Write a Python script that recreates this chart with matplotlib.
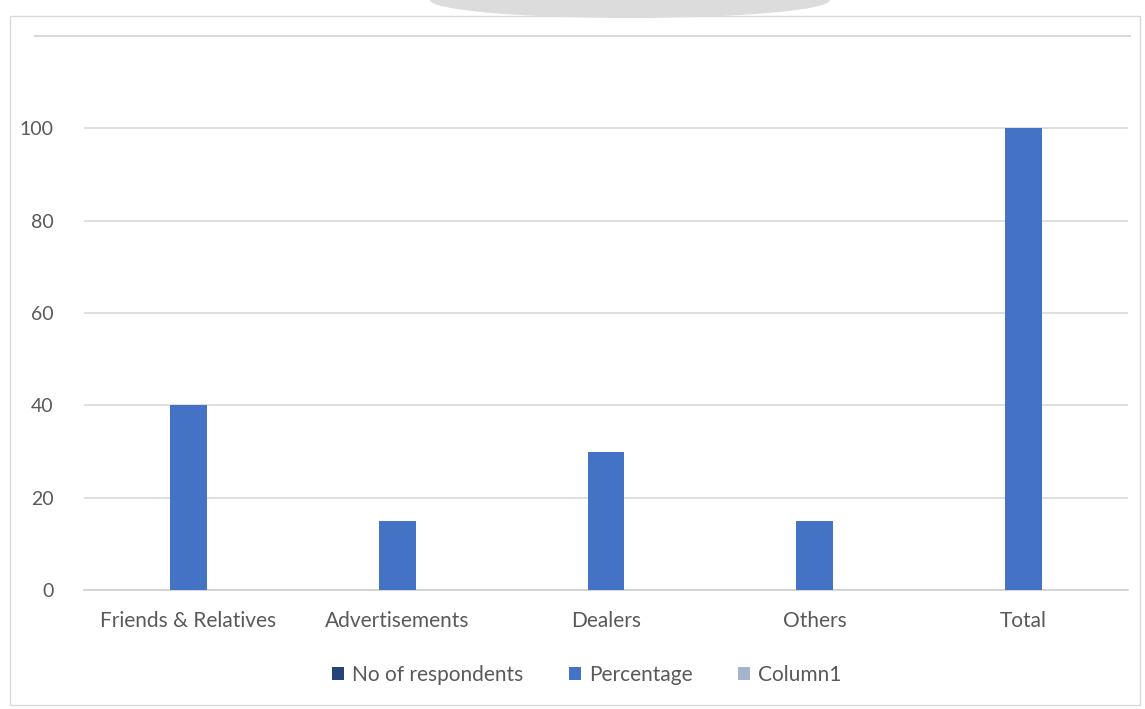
import matplotlib.pyplot as plt
from matplotlib.patches import Rectangle, Ellipse
from matplotlib.lines import Line2D
import numpy as np

categories = ["Friends & Relatives", "Advertisements", "Dealers", "Others", "Total"]
respondents = [0, 0, 0, 0, 0]   # not visible in the chart
percentage = [40, 15, 30, 15, 100]
column1 = [0, 0, 0, 0, 0]       # not visible in the chart
series_names = ["No of respondents", "Percentage", "Column1"]
colors = ["#264478", "#4472c4", "#a5b4cc"]

plt.rcParams['font.family'] = ['Lato', 'DejaVu Sans']
txt = "#595959"

fig = plt.figure(figsize=(11.45, 7.09), dpi=100)
ax = fig.add_axes([84/1145, 1 - 590/709, 1044/1145, 554/709])

x = np.arange(len(categories))
w = 0.177
for i, (vals, name, c) in enumerate(zip([respondents, percentage, column1], series_names, colors)):
    ax.bar(x + (i - 1) * w, vals, width=w, color=c, label=name, zorder=3)

ax.set_xlim(-0.5, len(categories) - 0.5)
ax.set_ylim(0, 120)
ax.set_yticks([0, 20, 40, 60, 80, 100])
ax.set_xticks(x)
ax.set_xticklabels(categories)
ax.tick_params(length=0, colors=txt, labelsize=15)
ax.tick_params(axis='y', labelsize=14, pad=22)
ax.tick_params(axis='x', pad=15)
ax.yaxis.grid(True, color="#d9d9d9", linewidth=1.2, zorder=0)
for s in ["top", "left", "right"]:
    ax.spines[s].set_visible(False)
ax.spines["bottom"].set_color("#d0d0d0")
ax.spines["bottom"].set_linewidth(1.2)

# long rule along top of plot area
fig.add_artist(Line2D([35/1145, 1130/1145], [1 - 36/709, 1 - 36/709], color="#d9d9d9", lw=1.5))

# chart frame
fig.add_artist(Rectangle((10/1145, 4/709), 1130/1145, 689/709, fill=False, edgecolor="#d9d9d9", lw=1.0))
# gray blob at the top edge
fig.add_artist(Ellipse((630/1145, 1.0), 400/1145, 36/709, color="#dcdcdc", lw=0))

leg = fig.legend(loc="center", bbox_to_anchor=(587/1145, 1 - 675/709), ncol=3, frameon=False,
                 fontsize=15, handlelength=0.55, handleheight=0.55, handletextpad=0.4, columnspacing=2.2)
for t in leg.get_texts():
    t.set_color(txt)

fig.savefig("out.png", dpi=100)
